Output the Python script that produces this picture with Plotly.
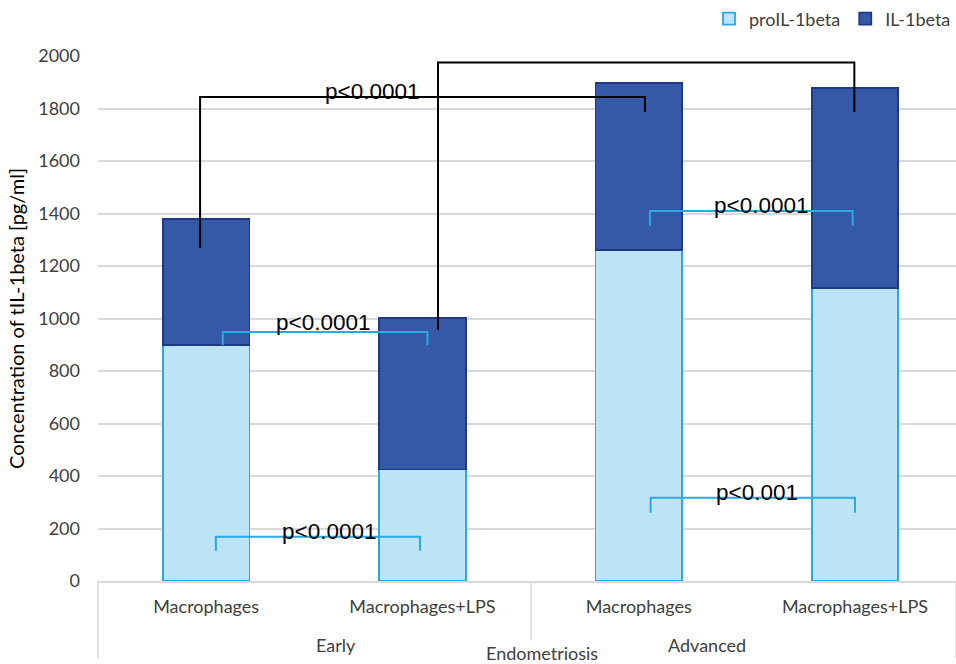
import plotly.graph_objects as go

# ---- data ----
groups = ["Early", "Early", "Advanced", "Advanced"]
conditions = ["Macrophages", "Macrophages+LPS", "Macrophages", "Macrophages+LPS"]
pro_il1beta = [900, 425, 1262, 1116]
il1beta = [480, 578, 635, 762]
y_ticks = [0, 200, 400, 600, 800, 1000, 1200, 1400, 1600, 1800, 2000]

# significance brackets: (x_left, x_right, y_left_end, y_right_end, y_top, label, label_x, label_y, kind)
brackets = [
    (-0.028, 2.029, 1269, 1787, 1844, "p<0.0001", 0.768, 1863, "black"),
    (1.072, 2.997, 956, 1787, 1975, "p<0.0001", 1.905, 2008, "black"),
    (0.077, 1.023, 898, 898, 949, "p<0.0001", 0.542, 983, "cyan"),
    (0.045, 0.989, 115, 115, 169, "p<0.0001", 0.566, 187, "cyan"),
    (2.052, 2.989, 1354, 1354, 1410, "p<0.0001", 2.566, 1429, "cyan"),
    (2.055, 3.0, 260, 260, 317, "p<0.001", 2.546, 339, "cyan"),
]

x_idx = list(range(len(conditions)))

PRO_FILL = "#bde3f6"
PRO_LINE = "#29a9e1"
IL_FILL = "#3559a7"
IL_LINE = "#1f3a85"
TXT = "#404040"
FONT = "Lato"
FS = 18

fig = go.Figure()
fig.add_trace(go.Bar(
    x=x_idx, y=pro_il1beta, name="proIL-1beta", width=0.4,
    marker=dict(color=PRO_FILL, line=dict(color=PRO_LINE, width=1.8)),
))
fig.add_trace(go.Bar(
    x=x_idx, y=il1beta, name="IL-1beta", width=0.4,
    marker=dict(color=IL_FILL, line=dict(color=IL_LINE, width=1.8)),
))

colors = {"black": "#000000", "cyan": "#29abe2"}
for (x0, x1, yl, yr, yt, label, lx, ly, kind) in brackets:
    c = colors[kind]
    fig.add_shape(type="path",
                  path=f"M {x0} {yl} L {x0} {yt} L {x1} {yt} L {x1} {yr}",
                  xref="x", yref="y", line=dict(color=c, width=2))
    fig.add_annotation(x=lx, y=ly, xref="x", yref="y", text=label, showarrow=False,
                       font=dict(family="Liberation Sans", size=22.5, color="#000000"),
                       yanchor="middle", xanchor="center")

# group dividers under x axis
for px, bottom in [(0.0, -0.147), (0.5047, -0.113), (1.0, -0.147)]:
    fig.add_shape(type="line", xref="paper", yref="paper", x0=px, x1=px, y0=0, y1=bottom,
                  line=dict(color="#d9d9d9", width=1.5))

for g, gx in [("Early", 0.2517), ("Advanced", 0.7576)]:
    fig.add_annotation(x=gx, y=-0.122, xref="paper", yref="paper", text=g, showarrow=False,
                       font=dict(family=FONT, size=FS, color=TXT), yanchor="middle")
fig.add_annotation(x=0.5175, y=-0.137, xref="paper", yref="paper", text="Endometriosis",
                   showarrow=False, font=dict(family=FONT, size=FS, color=TXT),
                   yanchor="middle")

fig.update_layout(
    barmode="stack",
    width=956, height=664,
    margin=dict(l=98, r=0, t=56, b=83),
    plot_bgcolor="white", paper_bgcolor="white",
    font=dict(family=FONT, size=FS, color=TXT),
    showlegend=True,
    legend=dict(orientation="h", x=1.0, xanchor="right", y=1.0705, yanchor="middle",
                traceorder="normal", font=dict(family=FONT, size=FS, color=TXT),
                itemwidth=30, bgcolor="rgba(0,0,0,0)"),
    xaxis=dict(range=[-0.5, 3.467], tickvals=x_idx, ticktext=conditions,
               showgrid=False, zeroline=False, showline=True, linecolor="#d9d9d9",
               linewidth=1.5, ticks="", ticklabelstandoff=9,
               tickfont=dict(family=FONT, size=FS, color=TXT)),
    yaxis=dict(range=[0, 2000], tickvals=y_ticks, showgrid=True, gridcolor="#d9d9d9",
               gridwidth=1.5, zeroline=False, showline=False, ticks="",
               ticklabelstandoff=17,
               tickfont=dict(family=FONT, size=FS, color=TXT),
               title=dict(text="Concentration of tIL-1beta [pg/ml]", standoff=8,
                          font=dict(family=FONT, size=20, color="#000000"))),
)

fig.write_html("out.html", config={"displayModeBar": False},
               post_script="document.body.style.margin='0';document.body.style.padding='0';")
